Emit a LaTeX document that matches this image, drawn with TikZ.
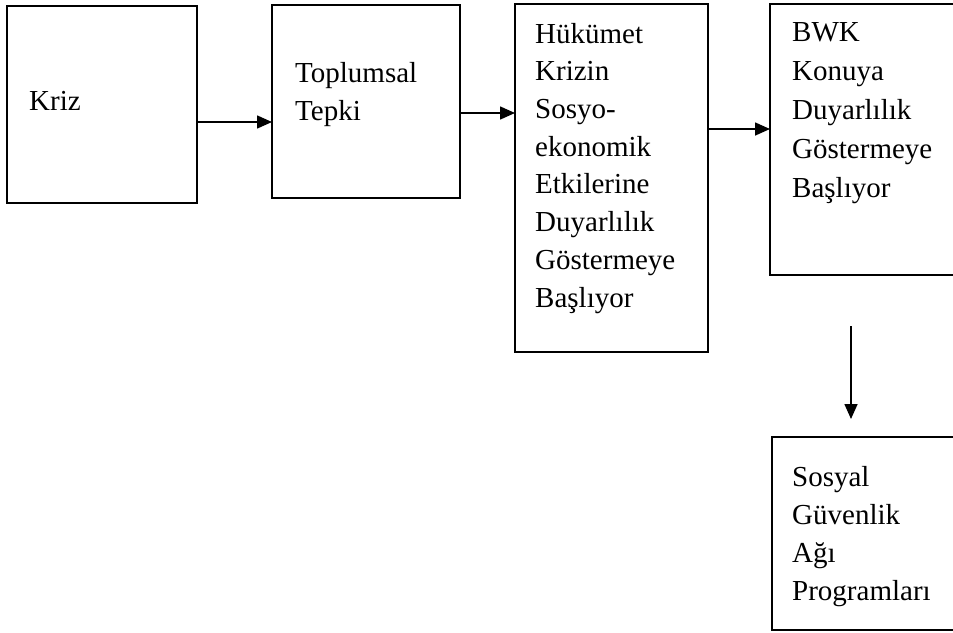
\documentclass[tikz,border=0pt]{standalone}
\usepackage{fontspec}
\setmainfont{Liberation Serif}
\usetikzlibrary{arrows.meta}
\begin{document}
\begin{tikzpicture}[x=1pt,y=-1pt,
  box/.style={draw, line width=2.2pt, inner sep=0pt, outer sep=0pt, anchor=north west},
  txt/.style={anchor=base west, inner sep=0pt, align=left},
  arr/.style={line width=1.6pt, -{Triangle[length=15pt,width=13pt]}}]
\clip (0,0) rectangle (953,632);
\fill[white] (0,0) rectangle (953,632);
% boxes
\node[box, minimum width=190pt, minimum height=197pt] (kriz) at (7,6) {};
\node[box, minimum width=188pt, minimum height=193pt] (toplum) at (272,5) {};
\node[box, minimum width=193pt, minimum height=348pt] (hukumet) at (515,4) {};
\node[box, minimum width=205pt, minimum height=271pt] (bwk) at (770,4) {};
\node[box, minimum width=203pt, minimum height=193pt] (sosyal) at (772,437) {};
% texts (anchor = baseline of the last line)
\node[txt, font=\fontsize{29}{38}\selectfont] (tkriz) at (29,110) {Kriz};
\node[txt, font=\fontsize{29}{38}\selectfont] (ttoplum) at (295,120) {Toplumsal\\Tepki};
\node[txt, font=\fontsize{29}{37.7}\selectfont] (thukumet) at (535,307) {Hükümet\\Krizin\\Sosyo-\\ekonomik\\Etkilerine\\Duyarlılık\\Göstermeye\\Başlıyor};
\node[txt, font=\fontsize{29}{39}\selectfont] (tbwk) at (792,197) {BWK\\Konuya\\Duyarlılık\\Göstermeye\\Başlıyor};
\node[txt, font=\fontsize{29}{37.7}\selectfont] (tsosyal) at (792,600) {Sosyal\\Güvenlik\\Ağı\\Programları};
% connectors
\draw[arr] (kriz.east |- 0,122) -- (toplum.west |- 0,122);
\draw[arr] (toplum.east |- 0,113) -- (hukumet.west |- 0,113);
\draw[arr] (hukumet.east |- 0,129) -- (bwk.west |- 0,129);
\coordinate (d1) at (851,326);
\coordinate (d2) at (851,419);
\draw[arr] (d1) -- (d2);
\end{tikzpicture}
\end{document}
